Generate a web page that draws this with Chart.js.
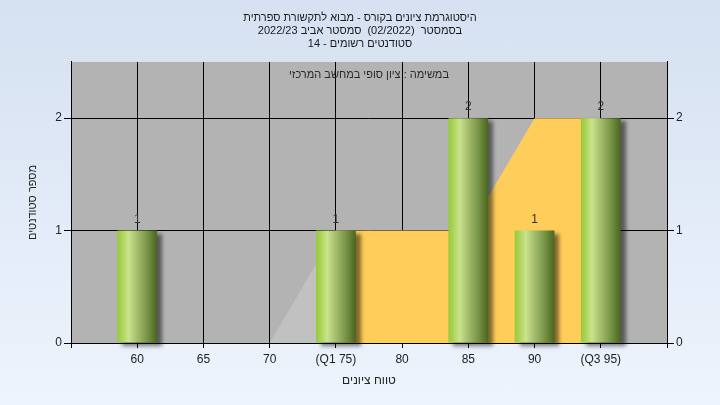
<!DOCTYPE html>
<html lang="he">
<head>
<meta charset="utf-8">
<script src="https://cdn.jsdelivr.net/npm/chart.js@4.4.1/dist/chart.umd.min.js"></script>
<style>
html, body { margin: 0; padding: 0; }
body { width: 720px; height: 405px; overflow: hidden; background: linear-gradient(#d5e1f1, #eef4fd); }
</style>
</head>
<body>
<canvas id="histo" width="720" height="405"></canvas>
<script>
// grade buckets shown on the x axis
const gradeValues = [60, 65, 70, 75, 80, 85, 90, 95];
const gradeLabels = ['60', '65', '70', '(Q1 75)', '80', '85', '90', '(Q3 95)'];
// number of students in each bucket
const studentCounts = [1, 0, 0, 1, 0, 2, 1, 2];
// shaded curve: part below Q1 (gray) and the inter-quartile part (yellow)
const lowCurveX = [60, 65, 70, 75];
const lowCurveY = [0, 0, 0, 1];
const iqrCurveX = [75, 80, 85, 90, 95];
const iqrCurveY = [1, 1, 1, 2, 2];

const titleLines = [
    'היסטוגרמת ציונים בקורס - מבוא לתקשורת ספרתית',
    'בסמסטר  (02/2022)  סמסטר אביב 2022/23',
    'סטודנטים רשומים - 14'
];
const taskText = 'במשימה : ציון סופי במחשב המרכזי';
const xTitle = 'טווח ציונים';
const yTitle = 'מספר סטודנטים';

const FONT = '"Liberation Sans", Arial, sans-serif';
const textColor = '#222';

// gray plot background
const plotBackground = {
    id: 'plotBackground',
    beforeDraw(chart) {
        const { ctx, chartArea: a } = chart;
        ctx.save();
        ctx.fillStyle = '#b3b3b3';
        ctx.fillRect(a.left, a.top, a.right - a.left, a.bottom - a.top);
        ctx.restore();
    }
};

// drop shadow behind the bars
const barShadow = {
    id: 'barShadow',
    beforeDatasetDraw(chart, args) {
        if (args.index !== 0) return;
        const ctx = chart.ctx;
        ctx.save();
        ctx.shadowColor = 'rgba(0,0,0,0.5)';
        ctx.shadowBlur = 4;
        ctx.shadowOffsetX = 5;
        ctx.shadowOffsetY = 3;
    },
    afterDatasetDraw(chart, args) {
        if (args.index !== 0) return;
        chart.ctx.restore();
    }
};

// value above each bar, and the task caption at the top of the plot
const barValues = {
    id: 'barValues',
    afterDraw(chart) {
        const { ctx, chartArea: a } = chart;
        const meta = chart.getDatasetMeta(0);
        ctx.save();
        ctx.font = '12px ' + FONT;
        ctx.fillStyle = '#333';
        ctx.textAlign = 'center';
        ctx.textBaseline = 'alphabetic';
        meta.data.forEach((bar, i) => {
            if (!studentCounts[i]) return;
            ctx.fillText(String(studentCounts[i]), bar.x, bar.y - 8);
        });
        ctx.font = '11px ' + FONT;
        ctx.fillStyle = '#2a2a2a';
        ctx.textBaseline = 'middle';
        ctx.fillText(taskText, (a.left + a.right) / 2, a.top + 13);
        ctx.restore();
    }
};

function cylinderFill(c) {
    const chart = c.chart;
    if (!chart.chartArea || !c.raw) return '#9ccc44';
    const xs = chart.scales.x;
    const cx = xs.getPixelForValue(c.raw.x);
    const half = (xs.getPixelForValue(c.raw.x + 5) - cx) * 0.3;
    const g = chart.ctx.createLinearGradient(cx - half, 0, cx + half, 0);
    g.addColorStop(0, '#98c93a');
    g.addColorStop(0.1, '#a8d252');
    g.addColorStop(0.28, '#cae38e');
    g.addColorStop(0.5, '#a4bc6c');
    g.addColorStop(0.75, '#789448');
    g.addColorStop(1, '#48661d');
    return g;
}

function labelFor(v) {
    const i = gradeValues.indexOf(v);
    return i < 0 ? '' : gradeLabels[i];
}

const countAxis = (position, width) => ({
    position: position,
    min: 0,
    max: 2.5,
    afterFit: s => { s.width = width; },
    afterBuildTicks: s => { s.ticks = s.ticks.filter(t => Number.isInteger(t.value)); },
    ticks: { stepSize: 1, color: textColor, font: { family: FONT, size: 12 }, padding: 2 },
    grid: { color: '#000', tickLength: 7, drawOnChartArea: position === 'left' },
    border: { color: '#000' }
});

const yAxis = countAxis('left', 71);
yAxis.title = { display: true, text: yTitle, color: textColor, font: { family: FONT, size: 11 }, padding: { top: 26, bottom: 0 } };

new Chart(document.getElementById('histo'), {
    type: 'bar',
    data: {
        datasets: [{
            label: 'students',
            data: gradeValues.map((g, i) => ({ x: g, y: studentCounts[i] })),
            backgroundColor: cylinderFill,
            borderWidth: 0,
            barPercentage: 0.6,
            categoryPercentage: 1,
            clip: false,
            order: 0
        }, {
            type: 'line',
            label: 'below Q1',
            data: lowCurveX.map((g, i) => ({ x: g, y: lowCurveY[i] })),
            backgroundColor: '#c1c1c1',
            borderWidth: 0,
            pointRadius: 0,
            fill: 'origin',
            order: 2
        }, {
            type: 'line',
            label: 'IQR',
            data: iqrCurveX.map((g, i) => ({ x: g, y: iqrCurveY[i] })),
            backgroundColor: '#ffcd59',
            borderWidth: 0,
            pointRadius: 0,
            fill: 'origin',
            order: 1
        }]
    },
    options: {
        responsive: false,
        animation: false,
        layout: { padding: 0 },
        plugins: {
            legend: { display: false },
            tooltip: { enabled: false },
            title: {
                display: true,
                text: titleLines,
                color: '#1a1a1a',
                font: { family: FONT, size: 11, weight: 'normal', lineHeight: 1.15 },
                padding: { top: 12, bottom: 12 }
            }
        },
        scales: {
            x: {
                type: 'linear',
                min: 55,
                max: 100,
                offset: false,
                afterFit: s => { s.height = 62; },
                ticks: { stepSize: 5, color: textColor, font: { family: FONT, size: 12 }, padding: 4, maxRotation: 0, autoSkip: false, callback: labelFor },
                grid: { color: '#000', tickLength: 5, offset: false },
                border: { color: '#000' },
                title: { display: true, text: xTitle, color: textColor, font: { family: FONT, size: 12 }, padding: { top: 0, bottom: 17 } }
            },
            y: yAxis,
            y2: countAxis('right', 53)
        }
    },
    plugins: [plotBackground, barShadow, barValues]
});
</script>
</body>
</html>
